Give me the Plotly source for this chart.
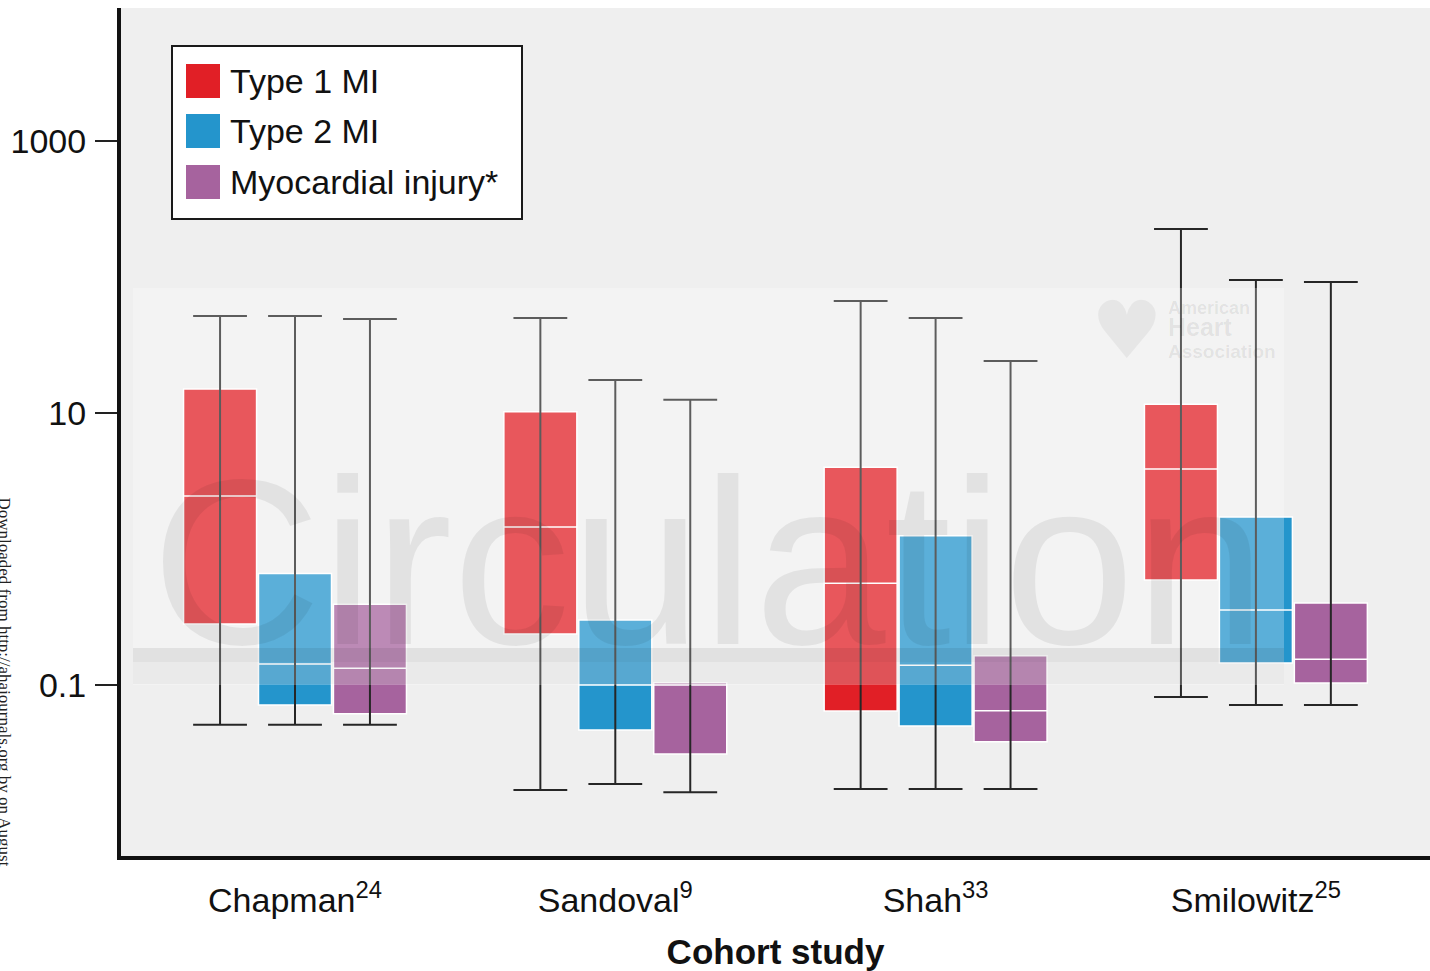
import plotly.graph_objects as go

# ---------------- data ----------------
cohorts = ["Chapman<sup>24</sup>", "Sandoval<sup>9</sup>", "Shah<sup>33</sup>", "Smilowitz<sup>25</sup>"]
series_names = ["Type 1 MI", "Type 2 MI", "Myocardial injury*"]
series_colors = ["#e11f26", "#2495cc", "#a6639e"]

# per series: values for the 4 cohorts
type1_upper = [51.6, 50.0, 66.7, 225.0]
type1_q3 = [15.0, 10.2, 4.0, 11.6]
type1_median = [2.45, 1.45, 0.56, 3.87]
type1_q1 = [0.281, 0.237, 0.0644, 0.592]
type1_lower = [0.0511, 0.0169, 0.0172, 0.0816]

type2_upper = [51.6, 17.5, 50.0, 95.0]
type2_q3 = [0.662, 0.301, 1.25, 1.72]
type2_median = [0.1426, 0.100, 0.140, 0.356]
type2_q1 = [0.0713, 0.0467, 0.050, 0.145]
type2_lower = [0.0511, 0.0187, 0.0172, 0.0713]

injury_upper = [49.1, 12.5, 24.1, 91.8]
injury_q3 = [0.392, 0.104, 0.164, 0.401]
injury_median = [0.1328, 0.100, 0.0647, 0.155]
injury_q1 = [0.0615, 0.0311, 0.0383, 0.1035]
injury_lower = [0.0511, 0.0163, 0.0172, 0.0713]

y_tick_vals = [0.1, 10, 1000]
y_tick_text = ["0.1", "10", "1000"]

stats = [
    (type1_lower, type1_q1, type1_median, type1_q3, type1_upper),
    (type2_lower, type2_q1, type2_median, type2_q3, type2_upper),
    (injury_lower, injury_q1, injury_median, injury_q3, injury_upper),
]

# ---------------- layout geometry ----------------
W, H = 1430, 971
L, R, T, B = 121, 1430, 8, 856
offsets = [-0.234, 0.0, 0.234]
box_w = 0.228
cap_half = 0.084


def pxx(p):
    return (p - L) / (R - L)


def pxy(p):
    return (B - p) / (B - T)


fig = go.Figure()

group_pos = list(range(len(cohorts)))
for s, (lo, q1, med, q3, hi) in enumerate(stats):
    xs = [g + offsets[s] for g in group_pos]
    fig.add_trace(go.Box(
        x=xs, q1=q1, median=med, q3=q3, lowerfence=lo, upperfence=hi,
        width=box_w, fillcolor=series_colors[s],
        line=dict(color="white", width=1.5), whiskerwidth=0,
        boxpoints=False, showlegend=False, hoverinfo="skip",
    ))

for s, (lo, q1, med, q3, hi) in enumerate(stats):
    wx, wy = [], []
    for g in group_pos:
        c = g + offsets[s]
        wx += [c, c, None, c - cap_half, c + cap_half, None, c - cap_half, c + cap_half, None]
        wy += [lo[g], hi[g], None, hi[g], hi[g], None, lo[g], lo[g], None]
    fig.add_trace(go.Scatter(
        x=wx, y=wy, mode="lines", line=dict(color="#262626", width=2),
        showlegend=False, hoverinfo="skip",
    ))

shapes = []
annotations = []

# watermark overlay
shapes.append(dict(type="rect", xref="paper", yref="paper", layer="above",
                   x0=pxx(133), x1=pxx(1284), y0=pxy(685), y1=pxy(288),
                   fillcolor="rgba(255,255,255,0.25)", line=dict(width=0)))
shapes.append(dict(type="rect", xref="paper", yref="paper", layer="above",
                   x0=pxx(133), x1=pxx(1284), y0=pxy(662), y1=pxy(648),
                   fillcolor="rgba(0,0,0,0.07)", line=dict(width=0)))
shapes.append(dict(type="rect", xref="paper", yref="paper", layer="above",
                   x0=pxx(133), x1=pxx(1284), y0=pxy(684), y1=pxy(662),
                   fillcolor="rgba(0,0,0,0.035)", line=dict(width=0)))
annotations.append(dict(text="Circulation", xref="paper", yref="paper",
                        x=pxx(708), y=pxy(562), xanchor="center", yanchor="middle",
                        showarrow=False,
                        font=dict(family="Liberation Sans", size=236, color="rgba(0,0,0,0.065)")))
annotations.append(dict(
    text=("<b><span style='font-size:18px'>American</span><br>"
          "<span style='font-size:25px'>Heart</span><br>"
          "<span style='font-size:19px'>Association</span></b>"),
    xref="paper", yref="paper", x=pxx(1166), y=pxy(330), xanchor="left", yanchor="middle",
    align="left", showarrow=False,
    font=dict(family="Liberation Sans", size=17, color="rgba(0,0,0,0.075)")))
annotations.append(dict(text="♥", xref="paper", yref="paper",
                        x=pxx(1127), y=pxy(330), xanchor="center", yanchor="middle",
                        showarrow=False,
                        font=dict(family="DejaVu Sans", size=80, color="rgba(0,0,0,0.05)")))

# manual legend
shapes.append(dict(type="rect", xref="paper", yref="paper", layer="above",
                   x0=pxx(172), x1=pxx(522), y0=pxy(219), y1=pxy(46),
                   fillcolor="white", line=dict(color="#1a1a1a", width=2)))
leg_y = [81, 131, 182]
for i, name in enumerate(series_names):
    shapes.append(dict(type="rect", xref="paper", yref="paper", layer="above",
                       x0=pxx(186), x1=pxx(220), y0=pxy(leg_y[i] + 17), y1=pxy(leg_y[i] - 17),
                       fillcolor=series_colors[i], line=dict(width=0)))
    annotations.append(dict(text=name, xref="paper", yref="paper",
                            x=pxx(228), y=pxy(leg_y[i]), xanchor="left", yanchor="middle",
                            showarrow=False,
                            font=dict(family="Liberation Sans", size=34, color="#111")))

# side margin text
annotations.append(dict(text="Downloaded from http://ahajournals.org by on August", xref="paper", yref="paper",
                        x=pxx(4), y=pxy(495), xanchor="center", yanchor="top", textangle=90,
                        showarrow=False,
                        font=dict(family="Liberation Serif", size=17, color="#222")))

fig.update_layout(
    width=W, height=H,
    margin=dict(l=L, r=W - R, t=T, b=H - B),
    paper_bgcolor="white", plot_bgcolor="#efefef",
    boxmode="overlay",
    font=dict(family="Liberation Sans", color="#111"),
    shapes=shapes, annotations=annotations,
    showlegend=False,
)
fig.update_xaxes(
    range=[(L - 295) / 320.3, (R - 295) / 320.3],
    tickmode="array", tickvals=group_pos, ticktext=cohorts,
    tickfont=dict(size=34, color="#111"), ticks="", ticklabelstandoff=11,
    showgrid=False, zeroline=False,
    showline=True, linewidth=4, linecolor="#111",
    title=dict(text="<b>Cohort study</b>", font=dict(size=35, color="#111"), standoff=24),
)
fig.update_yaxes(
    type="log", range=[-2.257, 3.978],
    tickmode="array", tickvals=y_tick_vals, ticktext=y_tick_text,
    tickfont=dict(size=34, color="#111"), ticks="outside", ticklen=22, tickwidth=2, tickcolor="#222",
    ticklabelstandoff=2,
    showgrid=False, zeroline=False,
    showline=True, linewidth=4, linecolor="#111",
)

fig.write_html("out.html", config={"displayModeBar": False},
               post_script="document.body.style.margin='0';document.body.style.overflow='hidden';")
